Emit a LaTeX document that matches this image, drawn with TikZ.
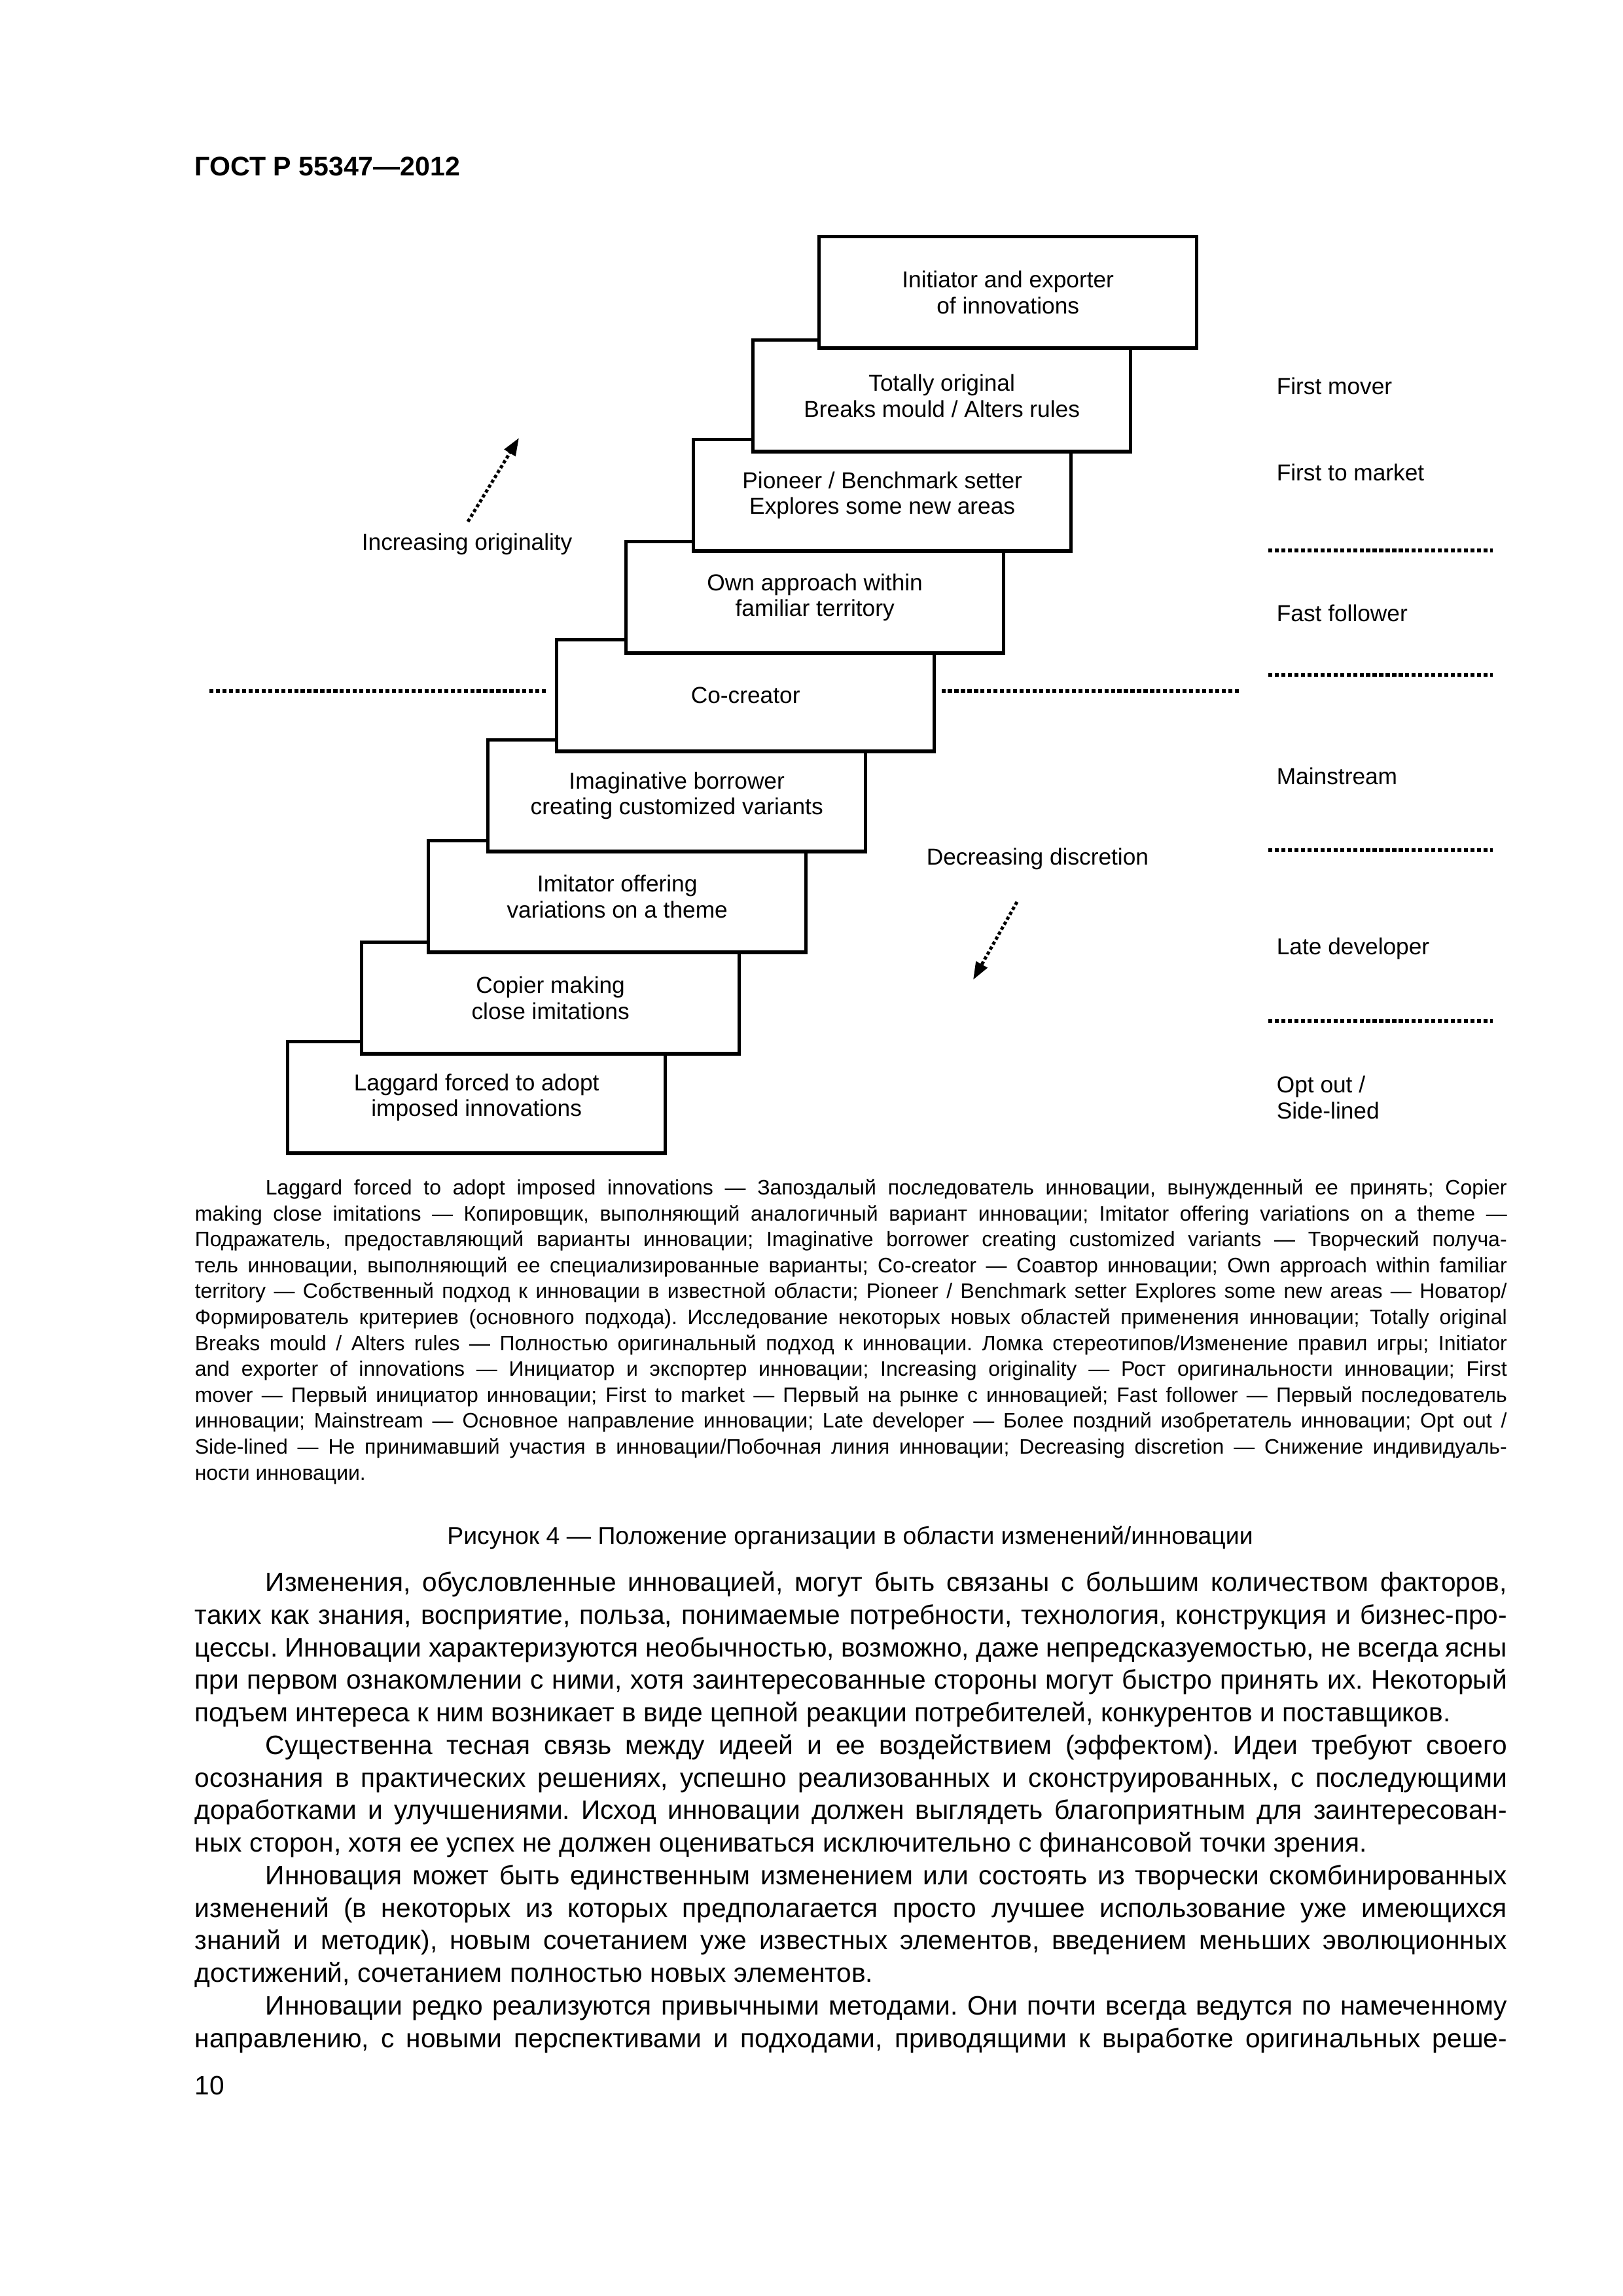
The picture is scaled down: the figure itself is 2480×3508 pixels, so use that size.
\documentclass[tikz,border=0pt]{standalone}
\usepackage{fontspec}
\setmainfont{Liberation Sans}
\usetikzlibrary{arrows.meta}
\frenchspacing
\begin{document}
\begin{tikzpicture}[x=0.2409pt,y=-0.2409pt,
  stepbox/.style={draw, line width=1.3pt, fill=white, minimum width=139pt, minimum height=41pt,
    inner sep=0pt, anchor=north west, align=center, font=\fontsize{8.5pt}{9.6pt}\selectfont},
  dotline/.style={line width=1.4pt, dash pattern=on 1.5pt off 0.9pt},
  dotarrow/.style={line width=1.2pt, dash pattern=on 1.2pt off 0.9pt, -{Triangle[length=6.5pt,width=4.6pt]}},
  lbl/.style={inner sep=0pt, anchor=base west, align=left, font=\fontsize{8.5pt}{10.1pt}\selectfont},
  leg/.style={inner sep=0pt, anchor=base west, font=\fontsize{7.7pt}{9.5pt}\selectfont},
  body/.style={inner sep=0pt, anchor=base west, font=\fontsize{9.8pt}{12pt}\selectfont}]
\fill[white] (0,0) rectangle (2480,3508);
\useasboundingbox (0,0) rectangle (2480,3508);
% header
\node[inner sep=0pt, anchor=base west, font=\fontsize{9.9pt}{12pt}\selectfont\bfseries] (hdr) at (297,268) {ГОСТ Р 55347—2012};
% staircase boxes (bottom first)
\node[stepbox] (lag) at (437,1589) {Laggard forced to adopt\\imposed innovations};
\node[stepbox] (cop) at (550,1437) {Copier making\\close imitations};
\node[stepbox] (imi) at (652,1282) {Imitator offering\\variations on a theme};
\node[stepbox] (ima) at (743,1128) {Imaginative borrower\\creating customized variants};
\node[stepbox] (co)  at (848,975)  {Co-creator};
\node[stepbox] (own) at (954,825)  {Own approach within\\familiar territory};
\node[stepbox] (pio) at (1057,669) {Pioneer / Benchmark setter\\Explores some new areas};
\node[stepbox] (tot) at (1148,517) {Totally original\\Breaks mould / Alters rules};
\node[stepbox] (ini) at (1249,359) {Initiator and exporter\\of innovations};
% middle dotted line
\coordinate (mdl) at (320,1056);
\coordinate (mdr) at (1893,1056);
\draw[dotline, shorten >=3pt] (mdl) -- (mdl -| co.west);
\draw[dotline, shorten >=2pt] (mdr) -- (mdr -| co.east);
% arrows and their labels
\coordinate (inct) at (715,797);
\coordinate (inch) at (793,669);
\draw[dotarrow] (inct) -- (inch);
\node[lbl] (incl) at (552,840) {Increasing originality};
\coordinate (dect) at (1554,1378);
\coordinate (dech) at (1487,1497);
\draw[dotarrow] (dect) -- (dech);
\node[lbl] (decl) at (1415,1321) {Decreasing discretion};
% right column
\node[lbl] (r1) at (1950,602) {First mover};
\node[lbl] (r2) at (1950,734) {First to market};
\node[lbl] (r3) at (1950,949) {Fast follower};
\node[lbl] (r4) at (1950,1198) {Mainstream};
\node[lbl] (r5) at (1950,1458) {Late developer};
\node[lbl] (r6) at (1950,1669) {Opt out /};
\node[lbl] (r7) at (1950,1709) {Side-lined};
\foreach \yy/\nm in {841/a,1031/b,1299/c,1560/d}{
  \coordinate (s\nm1) at (1938,\yy);
  \coordinate (s\nm2) at (2281,\yy);
  \draw[dotline] (s\nm1) -- (s\nm2);
}
% legend
\node[leg] (g1) at (405,1825) {\makebox[457pt][s]{Laggard forced to adopt imposed innovations — Запоздалый последователь инновации, вынужденный ее принять; Copier}};
\node[leg] (g2) at (297,1865) {\makebox[483pt][s]{making close imitations — Копировщик, выполняющий аналогичный вариант инновации; Imitator offering variations on a theme —}};
\node[leg] (g3) at (297,1904) {\makebox[483pt][s]{Подражатель, предоставляющий варианты инновации; Imaginative borrower creating customized variants — Творческий получа-}};
\node[leg] (g4) at (297,1944) {\makebox[483pt][s]{тель инновации, выполняющий ее специализированные варианты; Co-creator — Соавтор инновации; Own approach within familiar}};
\node[leg] (g5) at (297,1983) {\makebox[483pt][s]{territory — Собственный подход к инновации в известной области; Pioneer / Benchmark setter Explores some new areas — Новатор/}};
\node[leg] (g6) at (297,2023) {\makebox[483pt][s]{Формирователь критериев (основного подхода). Исследование некоторых новых областей применения инновации; Totally original}};
\node[leg] (g7) at (297,2063) {\makebox[483pt][s]{Breaks mould / Alters rules — Полностью оригинальный подход к инновации. Ломка стереотипов/Изменение правил игры; Initiator}};
\node[leg] (g8) at (297,2102) {\makebox[483pt][s]{and exporter of innovations — Инициатор и экспортер инновации; Increasing originality — Рост оригинальности инновации; First}};
\node[leg] (g9) at (297,2142) {\makebox[483pt][s]{mover — Первый инициатор инновации; First to market — Первый на рынке с инновацией; Fast follower — Первый последователь}};
\node[leg] (g10) at (297,2181) {\makebox[483pt][s]{инновации; Mainstream — Основное направление инновации; Late developer — Более поздний изобретатель инновации; Opt out /}};
\node[leg] (g11) at (297,2221) {\makebox[483pt][s]{Side-lined — Не принимавший участия в инновации/Побочная линия инновации; Decreasing discretion — Снижение индивидуаль-}};
\node[leg] (g12) at (297,2261) {ности инновации.};
% caption
\node[inner sep=0pt, anchor=base, font=\fontsize{9pt}{11pt}\selectfont] (cap) at (1299,2359) {Рисунок 4 — Положение организации в области изменений/инновации};
% body text
\node[body] (t1) at (405,2431) {\makebox[457pt][s]{Изменения, обусловленные инновацией, могут быть связаны с большим количеством факторов,}};
\node[body] (t2) at (297,2481) {\makebox[483pt][s]{таких как знания, восприятие, польза, понимаемые потребности, технология, конструкция и бизнес-про-}};
\node[body] (t3) at (297,2531) {\makebox[483pt][s]{цессы. Инновации характеризуются необычностью, возможно, даже непредсказуемостью, не всегда ясны}};
\node[body] (t4) at (297,2580) {\makebox[483pt][s]{при первом ознакомлении с ними, хотя заинтересованные стороны могут быстро принять их. Некоторый}};
\node[body] (t5) at (297,2630) {подъем интереса к ним возникает в виде цепной реакции потребителей, конкурентов и поставщиков.};
\node[body] (t6) at (405,2680) {\makebox[457pt][s]{Существенна тесная связь между идеей и ее воздействием (эффектом). Идеи требуют своего}};
\node[body] (t7) at (297,2730) {\makebox[483pt][s]{осознания в практических решениях, успешно реализованных и сконструированных, с последующими}};
\node[body] (t8) at (297,2779) {\makebox[483pt][s]{доработками и улучшениями. Исход инновации должен выглядеть благоприятным для заинтересован-}};
\node[body] (t9) at (297,2829) {ных сторон, хотя ее успех не должен оцениваться исключительно с финансовой точки зрения.};
\node[body] (t10) at (405,2879) {\makebox[457pt][s]{Инновация может быть единственным изменением или состоять из творчески скомбинированных}};
\node[body] (t11) at (297,2929) {\makebox[483pt][s]{изменений (в некоторых из которых предполагается просто лучшее использование уже имеющихся}};
\node[body] (t12) at (297,2978) {\makebox[483pt][s]{знаний и методик), новым сочетанием уже известных элементов, введением меньших эволюционных}};
\node[body] (t13) at (297,3028) {достижений, сочетанием полностью новых элементов.};
\node[body] (t14) at (405,3078) {\makebox[457pt][s]{Инновации редко реализуются привычными методами. Они почти всегда ведутся по намеченному}};
\node[body] (t15) at (297,3128) {\makebox[483pt][s]{направлению, с новыми перспективами и подходами, приводящими к выработке оригинальных реше-}};
\node[body] (pg) at (297,3200) {10};
\end{tikzpicture}
\end{document}
